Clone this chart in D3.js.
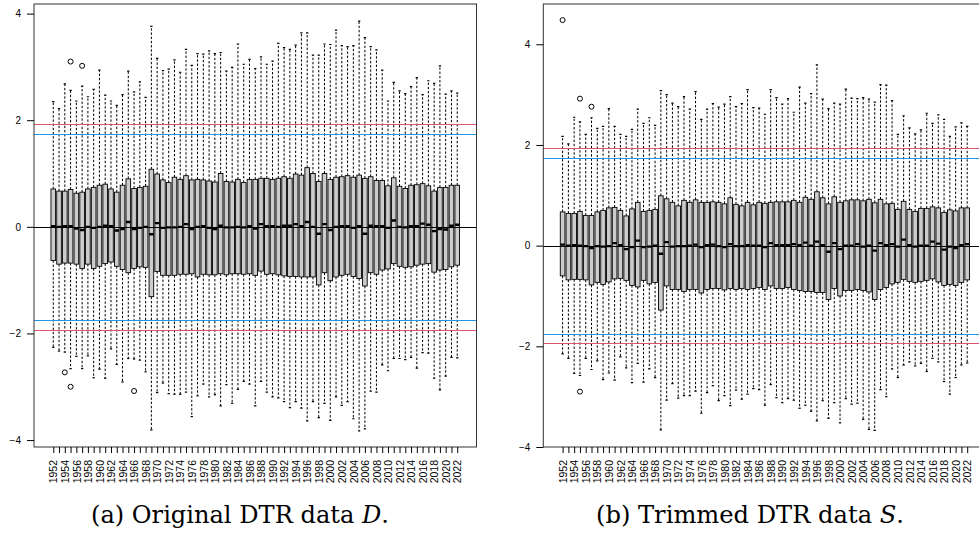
<!DOCTYPE html>
<html>
<head>
<meta charset="utf-8">
<script src="https://cdn.jsdelivr.net/npm/d3@7"></script>
<style>
  html, body { margin: 0; padding: 0; background: #fff; }
  svg { display: block; }
  .axis text { font-family: "Liberation Sans", Arial, Helvetica, sans-serif; fill: #000; }
</style>
</head>
<body>
<svg id="chart" width="979" height="536"></svg>
<script>
// ---------------- DATA ----------------
const years = [1952,1953,1954,1955,1956,1957,1958,1959,1960,1961,1962,1963,1964,1965,1966,1967,1968,1969,1970,1971,
  1972,1973,1974,1975,1976,1977,1978,1979,1980,1981,1982,1983,1984,1985,1986,1987,1988,1989,1990,1991,
  1992,1993,1994,1995,1996,1997,1998,1999,2000,2001,2002,2003,2004,2005,2006,2007,2008,2009,2010,2011,
  2012,2013,2014,2015,2016,2017,2018,2019,2020,2021,2022];

const yTicksA = [-4, -2, 0, 2, 4];
const yTicksB = [-4, -2, 0, 2, 4];
const refLines = [1.93, 1.75, 0, -1.75, -1.93];

// (a) Original DTR data D
const hiA = [2.35,2.22,2.68,2.56,2.36,2.64,2.44,2.58,2.94,2.47,2.36,2.28,2.48,2.92,2.53,2.72,2.43,3.76,3.16,2.93,
  2.96,3.13,2.90,3.33,3.03,3.25,3.24,3.30,3.25,3.27,2.92,2.99,3.43,3.05,3.14,2.97,3.19,3.05,3.11,3.44,
  3.36,3.33,3.41,3.64,3.64,3.22,3.22,3.43,3.42,3.69,3.40,3.38,3.40,3.86,3.55,3.38,3.32,2.94,2.36,2.71,
  2.55,2.50,2.63,2.80,2.48,2.74,2.69,3.02,2.49,2.55,2.51];
const q3A = [0.71,0.67,0.67,0.70,0.63,0.65,0.71,0.74,0.78,0.80,0.71,0.65,0.78,0.90,0.72,0.74,0.76,1.08,0.99,0.88,
  0.83,0.93,0.89,0.96,0.88,0.89,0.88,0.86,0.84,1.00,0.85,0.84,0.89,0.83,0.89,0.89,0.91,0.91,0.89,0.91,
  0.94,0.91,0.99,0.97,1.11,1.00,0.85,1.00,0.89,0.93,0.94,0.96,0.93,0.97,0.91,0.94,0.87,0.87,0.77,0.92,
  0.76,0.72,0.78,0.79,0.81,0.77,0.67,0.74,0.74,0.78,0.78];
const medA = [0.01,0.00,0.01,0.01,-0.03,-0.06,0.00,-0.02,0.00,0.02,0.01,-0.07,-0.04,0.09,-0.04,-0.02,0.00,-0.14,0.07,-0.02,
  -0.01,-0.01,0.00,0.05,-0.04,0.00,0.01,-0.02,-0.04,0.02,-0.01,-0.01,0.00,-0.01,0.01,-0.03,0.05,0.01,0.01,0.00,
  0.02,0.02,0.05,0.01,0.09,0.00,-0.13,0.05,-0.06,0.00,0.01,0.01,-0.02,0.01,-0.13,0.02,0.01,0.01,-0.02,0.12,
  0.00,-0.01,0.01,0.01,0.06,0.04,-0.08,-0.04,-0.05,0.02,0.04];
const q1A = [-0.63,-0.70,-0.68,-0.68,-0.70,-0.78,-0.70,-0.78,-0.74,-0.69,-0.66,-0.74,-0.80,-0.86,-0.78,-0.75,-0.76,-1.31,-0.84,-0.91,
  -0.91,-0.91,-0.89,-0.89,-0.88,-0.94,-0.89,-0.90,-0.90,-0.88,-0.90,-0.88,-0.88,-0.89,-0.88,-0.91,-0.83,-0.89,-0.88,-0.90,
  -0.92,-0.93,-0.93,-0.94,-0.94,-0.94,-1.09,-0.86,-1.01,-0.94,-0.91,-0.89,-0.93,-0.97,-1.11,-0.86,-0.89,-0.81,-0.79,-0.69,
  -0.74,-0.76,-0.75,-0.72,-0.70,-0.69,-0.85,-0.81,-0.80,-0.75,-0.72];
const loA = [-2.26,-2.33,-2.35,-2.66,-2.43,-2.66,-2.42,-2.83,-2.67,-2.84,-2.29,-2.58,-2.91,-2.47,-2.48,-2.50,-2.72,-3.81,-3.11,-2.93,
  -3.13,-3.14,-3.14,-3.10,-3.56,-3.17,-2.95,-3.19,-3.15,-3.36,-2.96,-3.31,-3.05,-2.90,-2.95,-3.36,-2.90,-3.10,-3.19,-3.21,
  -3.28,-3.39,-3.28,-3.40,-3.64,-3.28,-3.58,-3.31,-3.63,-3.19,-3.35,-3.28,-3.60,-3.83,-3.79,-3.08,-3.10,-2.59,-2.70,-2.47,
  -2.47,-2.49,-2.45,-2.65,-2.36,-2.37,-2.84,-3.06,-2.80,-2.45,-2.46];
const outYearA = [1955, 1957, 1954, 1955, 1966];
const outValA  = [3.10, 3.02, -2.73, -3.00, -3.08];

// (b) Trimmed DTR data S
const hiB = [2.17,2.02,2.55,2.46,2.21,2.54,2.33,2.37,2.72,2.37,2.21,2.17,2.31,2.71,2.43,2.54,2.39,3.08,3.00,2.83,
  2.76,2.96,2.71,3.06,2.51,2.71,2.82,2.75,2.81,2.96,2.76,2.82,3.10,2.74,2.73,2.61,3.10,2.94,2.81,2.92,
  2.65,3.15,2.83,3.02,3.59,2.91,2.72,2.83,2.81,3.11,2.93,2.92,2.94,2.91,2.85,3.20,3.19,2.88,2.21,2.58,
  2.34,2.22,2.30,2.63,2.43,2.60,2.51,2.17,2.36,2.44,2.37];
const q3B = [0.67,0.64,0.64,0.68,0.60,0.60,0.67,0.70,0.75,0.76,0.70,0.59,0.73,0.86,0.68,0.70,0.72,0.99,0.93,0.86,
  0.79,0.90,0.86,0.91,0.86,0.86,0.87,0.86,0.83,0.95,0.82,0.79,0.86,0.81,0.86,0.84,0.86,0.87,0.87,0.87,
  0.90,0.86,0.96,0.92,1.07,0.95,0.83,0.97,0.86,0.89,0.91,0.91,0.89,0.92,0.85,0.92,0.83,0.84,0.72,0.88,
  0.72,0.68,0.74,0.74,0.77,0.75,0.66,0.71,0.69,0.75,0.75];
const medB = [0.02,0.00,0.01,0.00,-0.01,-0.05,-0.01,-0.02,-0.01,0.05,0.01,-0.07,-0.03,0.10,-0.03,-0.02,0.00,-0.16,0.07,-0.02,
  -0.01,-0.01,0.00,0.02,-0.03,0.01,0.02,-0.01,-0.03,0.03,-0.01,-0.01,0.01,0.00,0.00,-0.03,0.05,0.01,0.01,0.01,
  0.03,0.01,0.06,0.00,0.08,0.01,-0.12,0.05,-0.07,0.00,0.00,0.03,-0.02,0.00,-0.10,0.05,0.01,0.03,-0.02,0.12,
  0.01,-0.02,0.00,0.00,0.08,0.04,-0.08,-0.02,-0.05,0.01,0.03];
const q1B = [-0.60,-0.68,-0.67,-0.67,-0.68,-0.78,-0.73,-0.77,-0.72,-0.66,-0.65,-0.69,-0.79,-0.82,-0.69,-0.76,-0.73,-1.28,-0.80,-0.87,
  -0.87,-0.91,-0.87,-0.87,-0.94,-0.87,-0.85,-0.85,-0.88,-0.85,-0.87,-0.85,-0.87,-0.85,-0.83,-0.87,-0.80,-0.85,-0.85,-0.83,
  -0.87,-0.89,-0.91,-0.91,-0.93,-0.93,-1.07,-0.85,-1.00,-0.89,-0.89,-0.87,-0.89,-0.92,-1.07,-0.87,-0.83,-0.76,-0.73,-0.67,
  -0.71,-0.73,-0.71,-0.69,-0.66,-0.72,-0.79,-0.77,-0.79,-0.73,-0.68];
const loB = [-2.15,-2.24,-2.54,-2.58,-2.24,-2.46,-2.29,-2.66,-2.53,-2.67,-2.21,-2.43,-2.72,-2.34,-2.71,-2.45,-2.62,-3.66,-3.07,-2.74,
  -3.03,-2.98,-2.98,-2.89,-3.33,-2.92,-2.78,-3.08,-2.98,-3.18,-2.87,-3.05,-2.95,-2.84,-2.86,-3.17,-2.76,-3.02,-3.12,-3.04,
  -3.07,-3.23,-3.17,-3.29,-3.48,-3.08,-3.43,-3.12,-3.52,-3.04,-3.15,-3.13,-3.45,-3.65,-3.67,-2.86,-3.00,-2.45,-2.62,-2.37,
  -2.31,-2.39,-2.34,-2.50,-2.24,-2.31,-2.70,-2.95,-2.62,-2.37,-2.33];
const outYearB = [1952, 1955, 1957, 1955];
const outValB  = [4.48, 2.92, 2.76, -2.90];

const captionA = ["(a) Original DTR data ", "D", "."];
const captionB = ["(b) Trimmed DTR data ", "S", "."];

// ---------------- DRAWING ----------------
const svg = d3.select("#chart");

function drawPanel(opt) {
  const g = svg.append("g");
  const n = years.length;
  const x = d3.scaleLinear().domain([-3.34, n - 1 + 3.34]).range([opt.left, opt.right]);
  const y = d3.scaleLinear().domain(opt.yDomain).range([opt.bottom, opt.top]);
  const step = x(1) - x(0);
  const bw = step * 0.8;
  const cw = bw * 0.5;
  const crisp = v => Math.round(v) + 0.5;

  const clipId = "clip" + opt.id;
  svg.append("defs").append("clipPath").attr("id", clipId)
    .append("rect").attr("x", opt.left).attr("y", opt.top)
    .attr("width", opt.right - opt.left).attr("height", opt.bottom - opt.top);

  const plot = g.append("g").attr("clip-path", `url(#${clipId})`);
  const idx = d3.range(n);
  const dash = "2.4,1.8";

  // whiskers
  plot.selectAll(".wu").data(idx).join("line")
    .attr("x1", i => x(i)).attr("x2", i => x(i))
    .attr("y1", i => y(opt.q3[i])).attr("y2", i => y(opt.hi[i]))
    .attr("stroke", "#000").attr("stroke-width", 1).attr("stroke-dasharray", dash);
  plot.selectAll(".wl").data(idx).join("line")
    .attr("x1", i => x(i)).attr("x2", i => x(i))
    .attr("y1", i => y(opt.q1[i])).attr("y2", i => y(opt.lo[i]))
    .attr("stroke", "#000").attr("stroke-width", 1).attr("stroke-dasharray", dash);
  // caps
  plot.selectAll(".cu").data(idx).join("line")
    .attr("x1", i => x(i) - cw / 2).attr("x2", i => x(i) + cw / 2)
    .attr("y1", i => y(opt.hi[i])).attr("y2", i => y(opt.hi[i]))
    .attr("stroke", "#000").attr("stroke-width", 1.2);
  plot.selectAll(".cl").data(idx).join("line")
    .attr("x1", i => x(i) - cw / 2).attr("x2", i => x(i) + cw / 2)
    .attr("y1", i => y(opt.lo[i])).attr("y2", i => y(opt.lo[i]))
    .attr("stroke", "#000").attr("stroke-width", 1.2);
  // boxes
  plot.selectAll(".bx").data(idx).join("rect")
    .attr("x", i => x(i) - bw / 2).attr("width", bw)
    .attr("y", i => y(opt.q3[i])).attr("height", i => y(opt.q1[i]) - y(opt.q3[i]))
    .attr("fill", "#cccccc").attr("stroke", "#000").attr("stroke-width", 0.9);
  // medians
  plot.selectAll(".md").data(idx).join("line")
    .attr("x1", i => x(i) - bw / 2).attr("x2", i => x(i) + bw / 2)
    .attr("y1", i => y(opt.med[i])).attr("y2", i => y(opt.med[i]))
    .attr("stroke", "#000").attr("stroke-width", 2.4);
  // outliers
  plot.selectAll(".ol").data(d3.range(opt.outYear.length)).join("circle")
    .attr("cx", k => x(years.indexOf(opt.outYear[k])))
    .attr("cy", k => y(opt.outVal[k]))
    .attr("r", 2.5).attr("fill", "none").attr("stroke", "#000").attr("stroke-width", 1);

  // reference lines
  const refColor = ["#DF536B", "#2297E6", "#000000", "#2297E6", "#DF536B"];
  plot.selectAll(".rl").data(refLines).join("line")
    .attr("x1", opt.left).attr("x2", opt.right)
    .attr("y1", v => crisp(y(v))).attr("y2", v => crisp(y(v)))
    .attr("stroke", (v, k) => refColor[k]).attr("stroke-width", 1.2);

  // frame
  g.append("rect").attr("x", opt.left).attr("y", opt.top)
    .attr("width", opt.right - opt.left).attr("height", opt.bottom - opt.top)
    .attr("fill", "none").attr("stroke", "#333").attr("stroke-width", 1);

  // y axis
  const ya = g.append("g").attr("class", "axis")
    .attr("transform", `translate(${opt.left},0)`)
    .call(d3.axisLeft(y).tickValues(opt.yTicks).tickSize(7).tickPadding(6)
      .tickFormat(v => v < 0 ? "\u2212" + Math.abs(v) : String(v)));
  ya.select(".domain").remove();
  ya.selectAll("text").attr("font-size", 10);

  // x axis
  const xa = g.append("g").attr("class", "axis")
    .attr("transform", `translate(0,${opt.bottom})`)
    .call(d3.axisBottom(x).tickValues(idx).tickSize(6)
      .tickFormat(i => (years[i] % 2 === 0) ? String(years[i]) : ""));
  xa.select(".domain").remove();
  xa.selectAll("text")
    .attr("font-size", 10.5)
    .attr("transform", "rotate(-90)")
    .attr("text-anchor", "end")
    .attr("x", -13).attr("y", 0).attr("dy", "0.35em");

  // caption
  const t = g.append("text")
    .style("font-family", "\"DejaVu Serif\", \"Liberation Serif\", serif")
    .attr("fill", "#000")
    .attr("x", opt.capX).attr("y", 523).attr("text-anchor", "middle")
    .attr("font-size", 24)
    .attr("textLength", opt.capW).attr("lengthAdjust", "spacingAndGlyphs");
  t.append("tspan").text(opt.caption[0]);
  t.append("tspan").attr("font-style", "italic").text(opt.caption[1]);
  t.append("tspan").text(opt.caption[2]);
}

drawPanel({
  id: "A", left: 34, right: 476.5, top: 4, bottom: 447,
  yDomain: [-4.13, 4.18], yTicks: yTicksA,
  hi: hiA, q3: q3A, med: medA, q1: q1A, lo: loA,
  outYear: outYearA, outVal: outValA,
  caption: captionA, capX: 240, capW: 298
});
drawPanel({
  id: "B", left: 543.3, right: 986.5, top: 4, bottom: 447,
  yDomain: [-4, 4.8], yTicks: yTicksB,
  hi: hiB, q3: q3B, med: medB, q1: q1B, lo: loB,
  outYear: outYearB, outVal: outValB,
  caption: captionB, capX: 750, capW: 308
});
</script>
</body>
</html>
